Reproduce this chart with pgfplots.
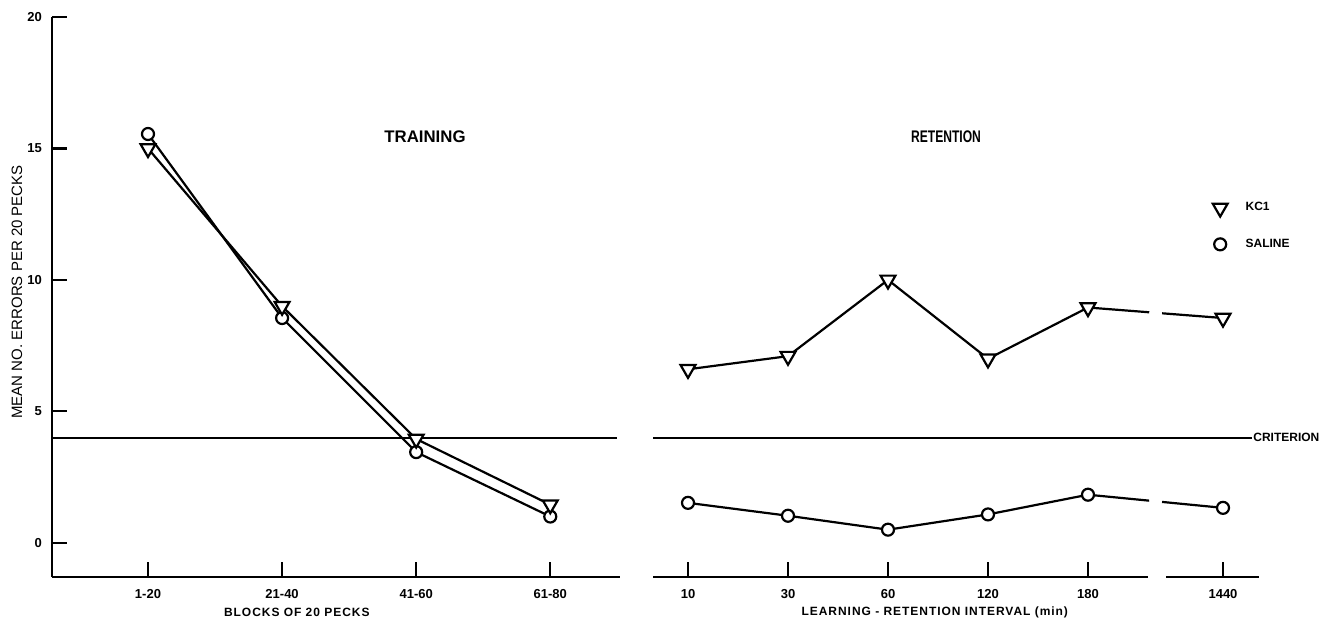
\documentclass[border=0pt]{standalone}
\usepackage{fontspec}
\setmainfont{Liberation Sans}
\newfontfamily\spaced[LetterSpace=8]{Liberation Sans}
\usepackage{pgfplots}
\pgfplotsset{compat=1.18}
\begin{document}
\begin{tikzpicture}
\path[use as bounding box] (0pt,0pt) rectangle (662pt,313.5pt);
\pgfplotsset{
  common/.style={scale only axis, anchor=south west, height=280pt,
    ymin=-1.3, ymax=20, clip=false,
    major tick length=7.5pt,
    every tick/.style={black, line width=1.1pt},
    tick label style={font=\fontsize{6.5}{7}\selectfont\bfseries},
    xticklabel style={yshift=-2.5pt},
    yticklabel style={xshift=-1.5pt},
  },
  kcl/.style={black, line width=1.1pt, mark=triangle*, mark size=4.3pt,
    mark options={rotate=180, fill=white, draw=black, solid, line width=1.1pt}},
  sal/.style={black, line width=1.1pt, mark=*, mark size=3pt,
    mark options={fill=white, draw=black, solid, line width=1.1pt}},
}
% ---------------- TRAINING ----------------
\begin{axis}[common, at={(26pt,25pt)}, width=284pt, xmin=-0.716, xmax=3.52,
  axis x line=bottom, axis y line=left, axis line style={line width=1.4pt, -},
  xtick align=inside, ytick align=inside,
  xtick={0,1,2,3}, xticklabels={1-20,21-40,41-60,61-80},
  ytick={0,5,10,15,20}, yticklabels={0,5,10,15,20},
  xlabel={\spaced\bfseries\fontsize{6}{7}\selectfont BLOCKS OF 20 PECKS},
  xlabel style={at={(axis description cs:0.431,0)}, anchor=center, yshift=-17.5pt},
  ylabel={\fontsize{7.5}{8}\selectfont MEAN NO. ERRORS PER 20 PECKS},
  ylabel style={at={(axis description cs:-0.0616,0.509)}, anchor=center},
]
\addplot[black, line width=1.1pt, no marks] coordinates {(-0.716,4) (3.5,4)};
\addplot[sal] coordinates {(0,15.55) (1,8.55) (2,3.45) (3,1.0)};
\addplot[kcl] coordinates {(0,15.0) (1,9.0) (2,3.95) (3,1.45)};
\end{axis}
% ---------------- RETENTION ----------------
\begin{axis}[common, at={(326.5pt,25pt)}, width=303pt, xmin=-0.35, xmax=5.71,
  axis x line=bottom, axis y line=none, x axis line style={draw=none},
  xtick align=inside,
  xtick={0,1,2,3,4,5.35}, xticklabels={10,30,60,120,180,1440},
  ytick=\empty,
  xlabel={\spaced\bfseries\fontsize{6}{7}\selectfont LEARNING - RETENTION INTERVAL (min)},
  xlabel style={at={(axis description cs:0.465,0)}, anchor=center, yshift=-17.5pt},
  legend style={at={(axis description cs:0.923,0.677)}, anchor=north west,
    draw=none, fill=none, font=\fontsize{6}{7}\selectfont\bfseries,
    row sep=8.5pt, inner sep=0pt,
    /tikz/every odd column/.append style={column sep=7pt}},
  legend cell align=left,
  legend image code/.code={\draw[#1] plot coordinates {(0.15cm,0cm)};},
]
\draw[line width=1.4pt] (axis cs:-0.35,-1.3) -- (axis cs:4.6,-1.3);
\draw[line width=1.4pt] (axis cs:4.78,-1.3) -- (axis cs:5.71,-1.3);
\addplot[black, line width=1.1pt, no marks, forget plot] coordinates {(-0.35,4) (5.64,4)};
\node[anchor=west, inner sep=0.5pt, font=\fontsize{6}{7}\selectfont\bfseries] at (axis cs:5.64,4) {CRITERION};
% broken segments 180 -> 1440
\addplot[black, line width=1.1pt, no marks, forget plot, dash pattern=on 30.7pt off 6.5pt on 100pt]
  coordinates {(4,8.95) (5.35,8.55)};
\addplot[black, line width=1.1pt, no marks, forget plot, dash pattern=on 30.7pt off 6.5pt on 100pt]
  coordinates {(4,1.83) (5.35,1.33)};
\addplot[kcl, forget plot] coordinates {(0,6.6) (1,7.1) (2,10.0) (3,7.0) (4,8.95)};
\addplot[kcl, only marks, forget plot] coordinates {(5.35,8.55)};
\addplot[sal, forget plot] coordinates {(0,1.52) (1,1.03) (2,0.5) (3,1.08) (4,1.83)};
\addplot[sal, only marks, forget plot] coordinates {(5.35,1.33)};
\addlegendimage{kcl, only marks}
\addlegendentry{KC1}
\addlegendimage{sal, only marks}
\addlegendentry{SALINE}
\end{axis}
\node[font=\fontsize{8.4}{9}\selectfont\bfseries] at (212.5pt,245pt) {TRAINING};
\node[font=\fontsize{8.4}{9}\selectfont\bfseries, xscale=0.72] at (473pt,245pt) {RETENTION};
\end{tikzpicture}
\end{document}
